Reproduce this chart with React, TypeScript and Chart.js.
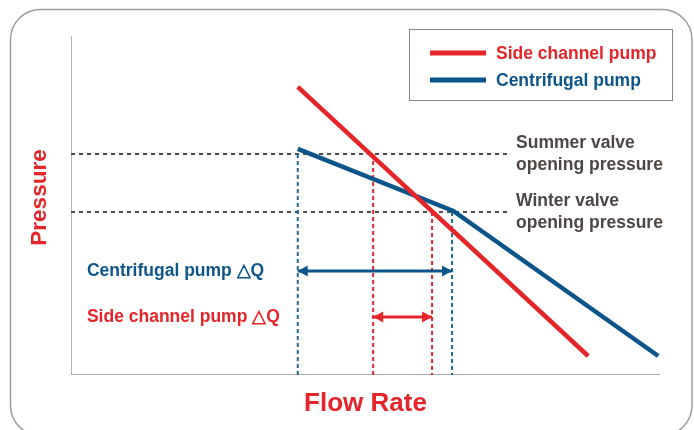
import React, { useEffect, useRef } from "react";
import { Chart, registerables } from "chart.js";

Chart.register(...registerables);

const RED = "#e4262a";
const BLUE = "#0b558a";
const GREY_TEXT = "#4e4744";
const DASH_GREY = "#4a4a4a";
const AXIS_GREY = "#8e8a88";

// data units: x 0..100 (flow rate), y 0..100 (pressure)
const SUMMER_P = 65.2;
const WINTER_P = 48.1;
const DASH_END_X = 74.2;

const sideChannelCurve = [
  { x: 38.5, y: 85.0 },
  { x: 87.8, y: 5.6 },
];
const centrifugalCurve = [
  { x: 38.5, y: 66.7 },
  { x: 64.9, y: 48.4 },
  { x: 99.7, y: 5.6 },
];

const blueVerticals = [38.5, 64.7];
const redVerticals = [51.3, 61.3];
const blueVerticalTops = [SUMMER_P, WINTER_P];
const redVerticalTops = [SUMMER_P, WINTER_P];

const centrifugalDQ = { y: 30.7, from: 38.5, to: 64.7 };
const sideChannelDQ = { y: 17.1, from: 51.3, to: 61.3 };

const legendLabels = ["Side channel pump", "Centrifugal pump"];
const valveLabels = [
  { y: SUMMER_P, lines: ["Summer valve", "opening pressure"] },
  { y: WINTER_P, lines: ["Winter valve", "opening pressure"] },
];
const dqLabels = [
  { text: "Centrifugal pump △Q", y: centrifugalDQ.y, color: BLUE },
  { text: "Side channel pump △Q", y: sideChannelDQ.y, color: RED },
];
const X_TITLE = "Flow Rate";
const Y_TITLE = "Pressure";

const FONT = "'Liberation Sans', Arial, Helvetica, sans-serif";

const decorPlugin = {
  id: "decor",
  beforeDraw(chart: any) {
    const ctx = chart.ctx;
    ctx.save();
    ctx.fillStyle = "#ffffff";
    ctx.fillRect(0, 0, chart.width, chart.height);
    ctx.strokeStyle = "#a19d9b";
    ctx.lineWidth = 1.5;
    ctx.beginPath();
    (ctx as any).roundRect(10.5, 9.5, 681.5, 426, 30);
    ctx.stroke();
    ctx.restore();
  },
  afterDatasetsDraw(chart: any) {
    const ctx = chart.ctx;
    const xs = chart.scales.x;
    const ys = chart.scales.y;
    ctx.save();

    // arrowheads
    chart.data.datasets.forEach((ds: any, i: number) => {
      if (!ds.arrow) return;
      const meta = chart.getDatasetMeta(i);
      const pts = meta.data;
      const a = pts[0];
      const b = pts[pts.length - 1];
      ctx.fillStyle = ds.borderColor;
      const L = 10;
      const W = 5.5;
      ctx.beginPath();
      ctx.moveTo(a.x, a.y);
      ctx.lineTo(a.x + L, a.y - W);
      ctx.lineTo(a.x + L, a.y + W);
      ctx.closePath();
      ctx.fill();
      ctx.beginPath();
      ctx.moveTo(b.x, b.y);
      ctx.lineTo(b.x - L, b.y - W);
      ctx.lineTo(b.x - L, b.y + W);
      ctx.closePath();
      ctx.fill();
    });

    ctx.textBaseline = "middle";
    ctx.textAlign = "left";

    // ΔQ labels
    ctx.font = `bold 17.5px ${FONT}`;
    dqLabels.forEach((l) => {
      ctx.fillStyle = l.color;
      ctx.fillText(l.text, xs.getPixelForValue(2.7), ys.getPixelForValue(l.y));
    });

    // valve labels
    ctx.fillStyle = GREY_TEXT;
    valveLabels.forEach((v) => {
      const py = ys.getPixelForValue(v.y);
      const px = xs.getPixelForValue(DASH_END_X) + 8;
      ctx.fillText(v.lines[0], px, py - 11);
      ctx.fillText(v.lines[1], px, py + 11);
    });

    // legend box
    ctx.strokeStyle = "#8a8684";
    ctx.lineWidth = 1;
    ctx.strokeRect(409.5, 29.5, 263, 71);
    const legendColors = [RED, BLUE];
    legendLabels.forEach((t, i) => {
      const y = 53 + i * 27;
      ctx.strokeStyle = legendColors[i];
      ctx.lineWidth = 5;
      ctx.beginPath();
      ctx.moveTo(430, y);
      ctx.lineTo(486, y);
      ctx.stroke();
      ctx.fillStyle = legendColors[i];
      ctx.fillText(t, 496, y + 1);
    });

    // axis titles
    ctx.fillStyle = RED;
    ctx.font = `bold 26px ${FONT}`;
    ctx.textAlign = "center";
    ctx.fillText(X_TITLE, (chart.chartArea.left + chart.chartArea.right) / 2, 404);
    ctx.translate(40, (chart.chartArea.top + chart.chartArea.bottom) / 2 - 8);
    ctx.rotate(-Math.PI / 2);
    ctx.font = `bold 22.5px ${FONT}`;
    ctx.fillText(Y_TITLE, 0, 0);

    ctx.restore();
  },
};

function line(data: any[], color: string, width: number, extra: any = {}) {
  return {
    type: "line",
    data,
    borderColor: color,
    backgroundColor: color,
    borderWidth: width,
    pointRadius: 0,
    fill: false,
    tension: 0,
    ...extra,
  };
}

export default function App() {
  const ref = useRef<HTMLCanvasElement>(null);
  useEffect(() => {
    if (!ref.current) return;
    const datasets: any[] = [
      line([{ x: 0, y: 100 }, { x: 0, y: 0 }, { x: 100, y: 0 }], AXIS_GREY, 1.3, { order: 10 }),
      line([{ x: 0, y: SUMMER_P }, { x: DASH_END_X, y: SUMMER_P }], DASH_GREY, 2, { borderDash: [4, 4], order: 9 }),
      line([{ x: 0, y: WINTER_P }, { x: DASH_END_X, y: WINTER_P }], DASH_GREY, 2, { borderDash: [4, 4], order: 9 }),
      ...blueVerticals.map((vx, i) =>
        line([{ x: vx, y: blueVerticalTops[i] }, { x: vx, y: 0 }], "#1f6a9c", 2, { borderDash: [4, 3], order: 8 })
      ),
      ...redVerticals.map((vx, i) =>
        line([{ x: vx, y: redVerticalTops[i] }, { x: vx, y: 0 }], RED, 2, { borderDash: [4, 3], order: 8 })
      ),
      line(
        [{ x: centrifugalDQ.from, y: centrifugalDQ.y }, { x: centrifugalDQ.to, y: centrifugalDQ.y }],
        BLUE,
        3,
        { arrow: true, order: 5 }
      ),
      line(
        [{ x: sideChannelDQ.from, y: sideChannelDQ.y }, { x: sideChannelDQ.to, y: sideChannelDQ.y }],
        RED,
        3,
        { arrow: true, order: 5 }
      ),
      line(centrifugalCurve, BLUE, 4.5, { order: 2, label: legendLabels[1] }),
      line(sideChannelCurve, RED, 4.5, { order: 1, label: legendLabels[0] }),
    ];
    const chart = new Chart(ref.current, {
      type: "line",
      data: { datasets },
      options: {
        animation: false,
        responsive: false,
        devicePixelRatio: 1,
        layout: { padding: { left: 71, top: 36, right: 34, bottom: 55 } },
        scales: {
          x: { type: "linear", min: 0, max: 100, display: false },
          y: { type: "linear", min: 0, max: 100, display: false },
        },
        plugins: { legend: { display: false }, tooltip: { enabled: false } },
        elements: { line: { borderCapStyle: "butt" } },
      } as any,
      plugins: [decorPlugin],
    } as any);
    return () => chart.destroy();
  }, []);
  return (
    <div style={{ position: "fixed", left: 0, top: 0, width: 694, height: 430 }}>
      <canvas ref={ref} width={694} height={430} style={{ display: "block" }} />
    </div>
  );
}
